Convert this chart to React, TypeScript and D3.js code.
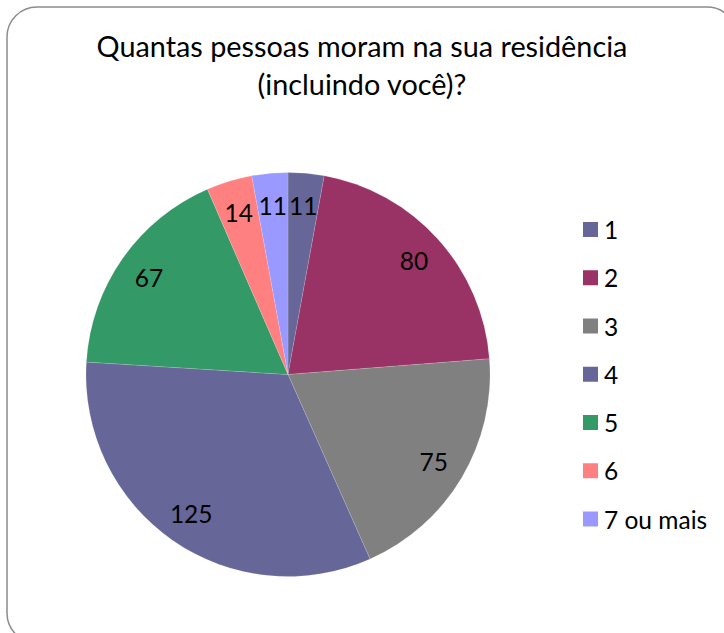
import React from "react";
import * as d3 from "d3";

const categories = ["1", "2", "3", "4", "5", "6", "7 ou mais"];
const values = [11, 80, 75, 125, 67, 14, 11];
const colors = ["#666699", "#993366", "#808080", "#666699", "#339966", "#FF8080", "#9999FF"];
const titleLines = ["Quantas pessoas moram na sua residência", "(incluindo você)?"];

const W = 724;
const H = 633;
const FONT = "Lato, 'Open Sans', sans-serif";

export default function App() {
  const cx = 288;
  const cy = 374.5;
  const R = 202;
  const pie = d3.pie<number>().sort(null).value((d) => d);
  const arcs = pie(values);
  const arcGen = d3.arc<d3.PieArcDatum<number>>().innerRadius(0).outerRadius(R);
  const labelArc = d3.arc<d3.PieArcDatum<number>>().innerRadius(R * 0.84).outerRadius(R * 0.84);

  const legendY = d3.scalePoint<string>().domain(categories).range([229.5, 519]);

  return (
    <svg
      width={W}
      height={H}
      style={{ position: "absolute", left: 0, top: 0, background: "#fff" }}
    >
      <rect x={7} y={7} width={730} height={636} rx={30} ry={30} fill="#fff" stroke="#8c8c8c" strokeWidth={1.5} />
      <g fontFamily={FONT} fill="#000" textAnchor="middle" fontSize={28.8}>
        {titleLines.map((t, i) => (
          <text key={i} x={362} y={57 + i * 38}>
            {t}
          </text>
        ))}
      </g>
      <g transform={`translate(${cx},${cy})`}>
        {arcs.map((a, i) => (
          <path key={i} d={arcGen(a) || ""} fill={colors[i]} stroke="#ffffff" strokeOpacity={0.18} strokeWidth={0.8} />
        ))}
        {arcs.map((a, i) => {
          const [x, y] = labelArc.centroid(a);
          return (
            <text
              key={"l" + i}
              x={x}
              y={y}
              textAnchor="middle"
              dominantBaseline="central"
              fontFamily={FONT}
              fontSize={24.5}
              fill="#000"
            >
              {values[i]}
            </text>
          );
        })}
      </g>
      <g fontFamily={FONT}>
        {categories.map((c, i) => {
          const y = legendY(c) as number;
          return (
            <g key={c}>
              <rect x={583} y={y - 7.5} width={15} height={15} fill={colors[i]} />
              <text x={604} y={y} dominantBaseline="central" fontSize={24.5} fill="#000">
                {c}
              </text>
            </g>
          );
        })}
      </g>
    </svg>
  );
}
